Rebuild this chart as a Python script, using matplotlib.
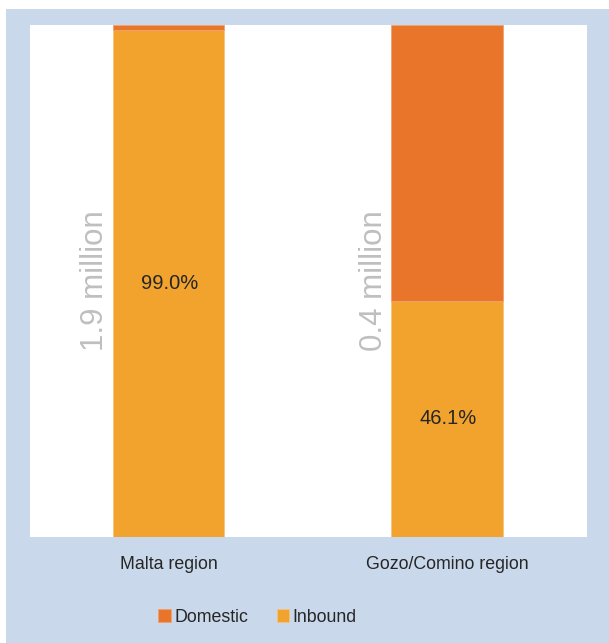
import matplotlib.pyplot as plt
from matplotlib.patches import Rectangle

# Share of guest nights by region (stacked to 100%)
regions = ["Malta region", "Gozo/Comino region"]
inbound = [99.0, 46.1]
domestic = [1.0, 53.9]
totals = ["1.9 million", "0.4 million"]

c_domestic = "#E8752A"
c_inbound = "#F2A32E"
c_panel = "#C9D8EA"

plt.rcParams["font.family"] = ["Liberation Sans", "DejaVu Sans"]

fig = plt.figure(figsize=(6.09, 6.43), dpi=100, facecolor="white")
fig.patches.append(Rectangle((6 / 609, 0), 1, 1 - 9 / 643, transform=fig.transFigure,
                             facecolor=c_panel, edgecolor="none", zorder=-10))

ax = fig.add_axes([30 / 609, 1 - 537 / 643, 557 / 609, 512 / 643])
ax.set_zorder(1)
ax.set_facecolor("white")

x = range(len(regions))
w = 0.40
ax.bar([i - 0.003 for i in x], inbound, width=w, color=c_inbound, edgecolor="#F7C37A",
       linewidth=0.6, label="Inbound")
ax.bar([i - 0.003 for i in x], domestic, width=w, bottom=inbound, color=c_domestic,
       edgecolor="#F0A070", linewidth=0.6, label="Domestic")

for i in x:
    ax.text(i, inbound[i] / 2, f"{inbound[i]:.1f}%", ha="center", va="center",
            fontsize=14.5, color="#262626")
    ax.text(i - 0.265, 50, totals[i], rotation=90, ha="center", va="center",
            fontsize=22.5, color="#BFBFBF")

ax.set_xlim(-0.5, 1.5)
ax.set_ylim(0, 100)
ax.set_xticks(list(x))
ax.set_xticklabels(regions, fontsize=12.8, color="#262626")
ax.tick_params(axis="x", length=0, pad=13.5)
ax.set_yticks([])
for s in ax.spines.values():
    s.set_visible(False)

handles, labels = ax.get_legend_handles_labels()
fig.legend(handles[::-1], labels[::-1], loc="center", bbox_to_anchor=(0.423, 1 - 617 / 643),
           ncol=2, frameon=False, fontsize=12.8, handlelength=0.7, handleheight=0.7,
           handletextpad=0.2, columnspacing=1.6, labelcolor="#262626")

fig.savefig("out.png", dpi=100, facecolor=fig.get_facecolor())
